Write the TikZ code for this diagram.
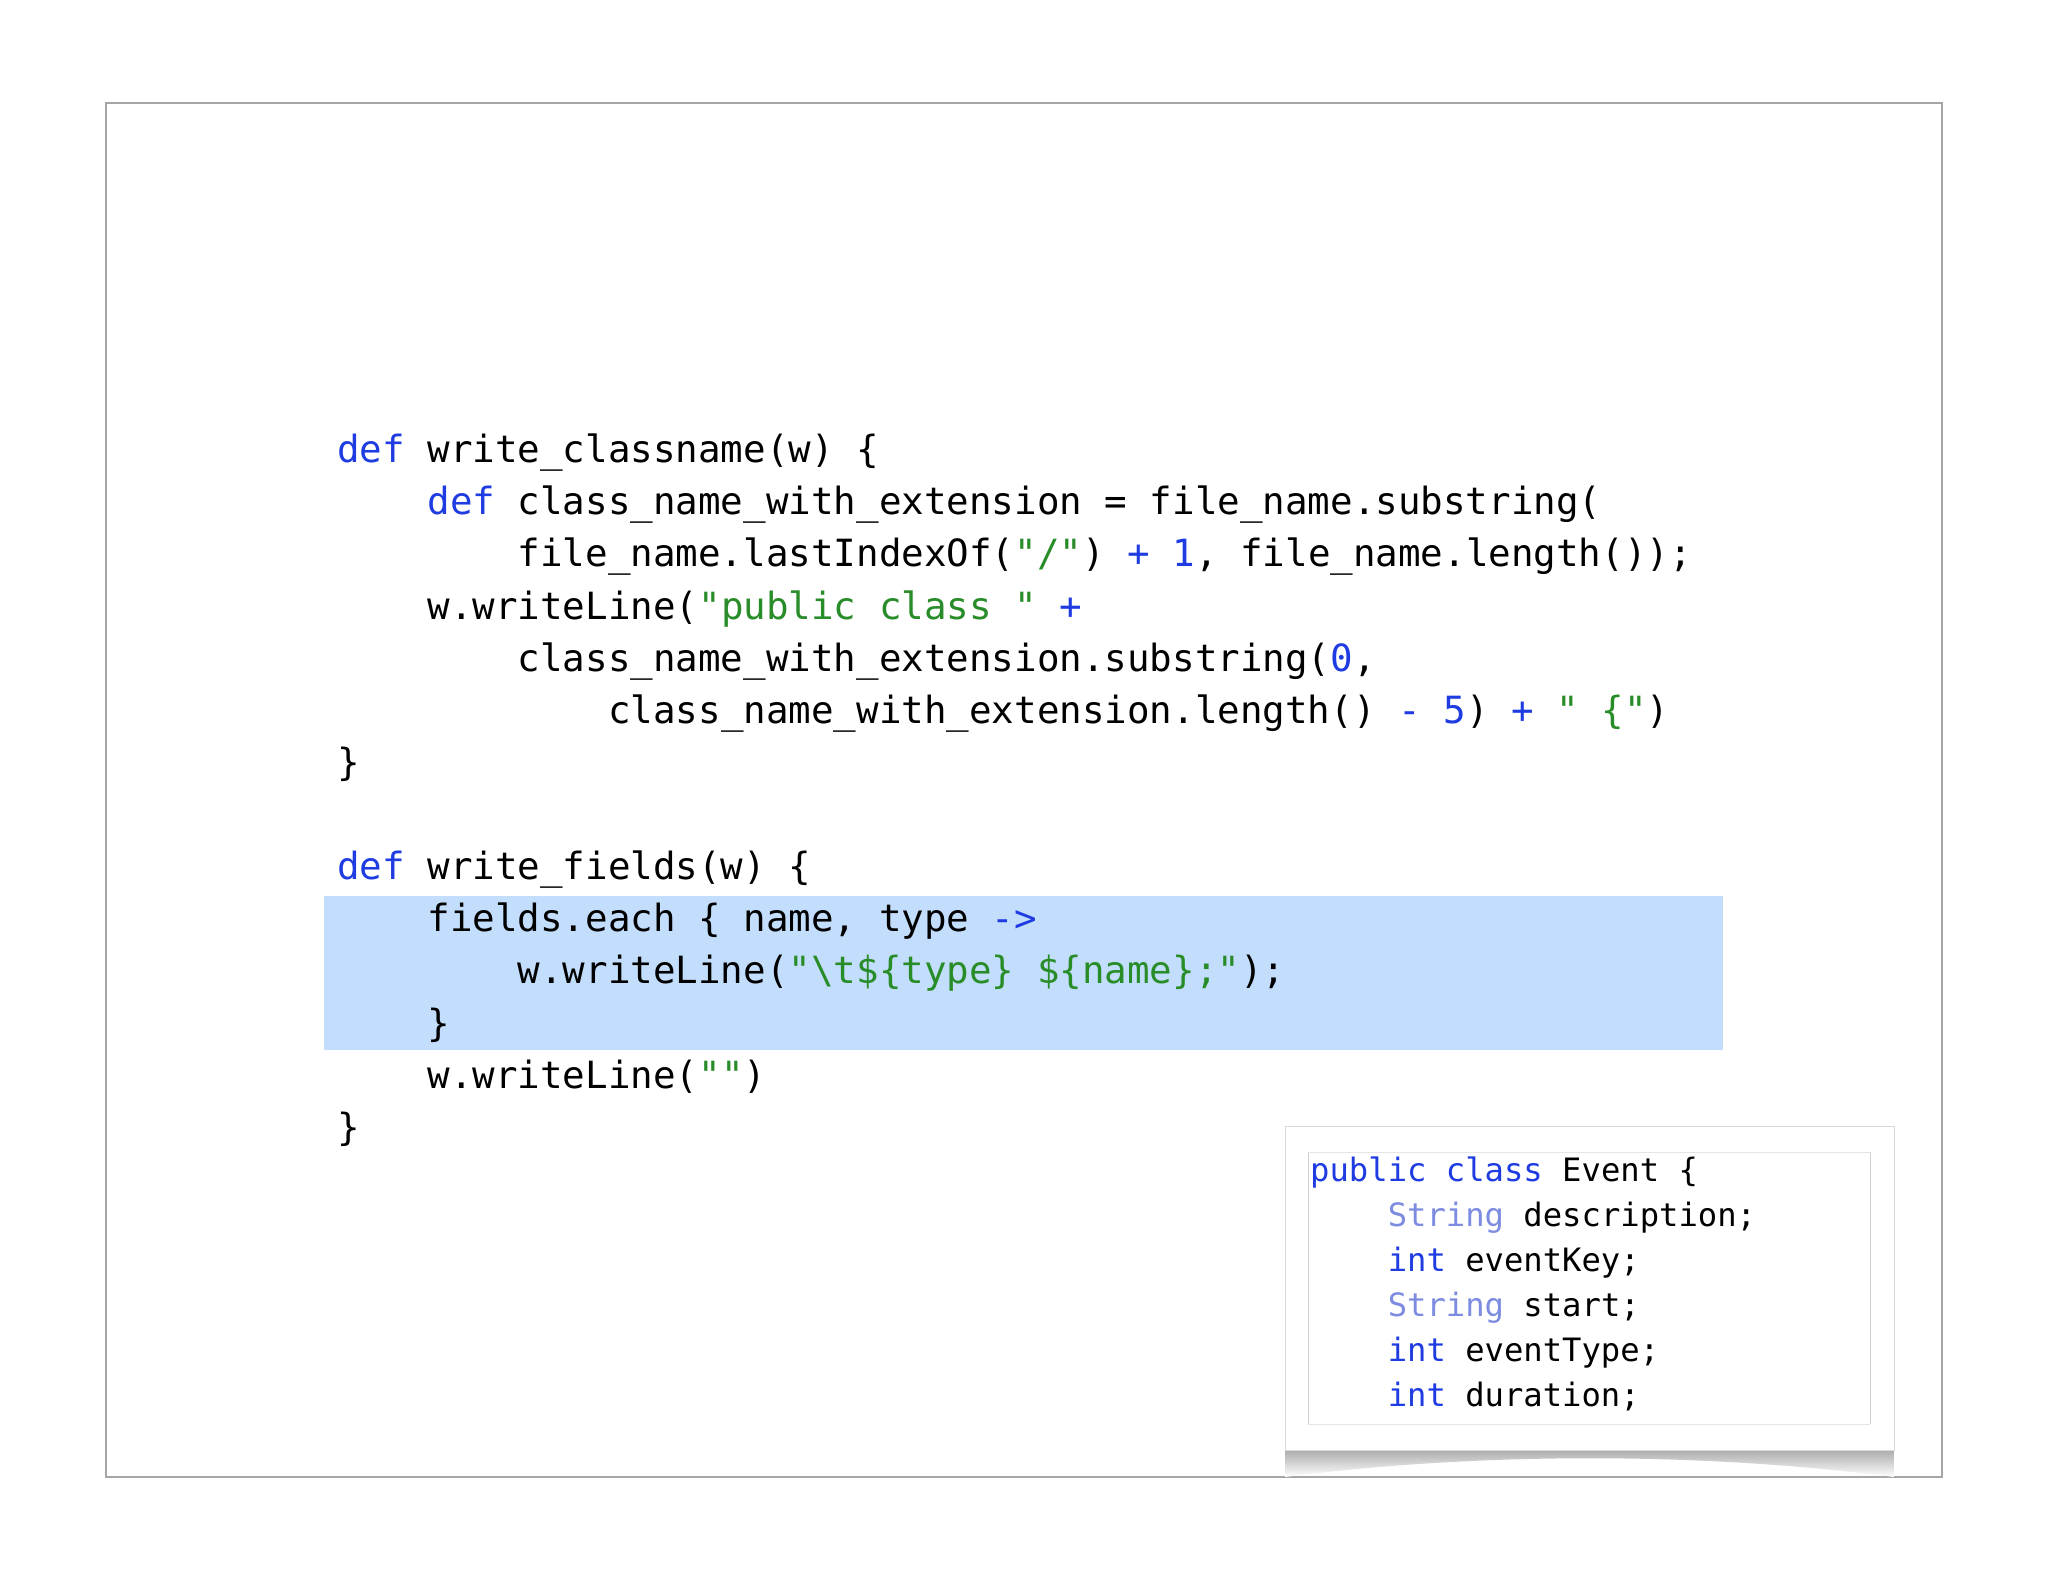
\documentclass[tikz,border=0pt]{standalone}
\usepackage{fontspec}
\setmonofont{DejaVu Sans Mono}
\definecolor{kw}{RGB}{30,60,225}
\definecolor{str}{RGB}{40,140,40}
\definecolor{lkw}{RGB}{125,140,225}
\definecolor{hl}{RGB}{195,222,252}
\begin{document}
\begin{tikzpicture}[x=1pt,y=-1pt,
  code/.style={anchor=base west,inner sep=0pt,font=\fontsize{37.5}{40}\ttfamily},
  small/.style={anchor=base west,inner sep=0pt,font=\fontsize{32.2}{36}\ttfamily}]
\useasboundingbox (0,0) rectangle (2048,1582);
\fill[white] (0,0) rectangle (2048,1582);
\draw[gray!70,line width=1.2pt] (106,103) rectangle (1942,1477);
\fill[hl] (324,896) rectangle (1723,1050);
\def\K#1{\textcolor{kw}{#1}}
\def\S#1{\textcolor{str}{#1}}
\node[code] (l1) at (337,462) {\K{def} write\_classname(w) \{};
\node[code] (l2) at (337,514) {\phantom{xxxx}\K{def} class\_name\_with\_extension = file\_name.substring(};
\node[code] (l3) at (337,566) {\phantom{xxxxxxxx}file\_name.lastIndexOf(\S{"/"}) \K{+} \K{1}, file\_name.length());};
\node[code] (l4) at (337,619) {\phantom{xxxx}w.writeLine(\S{"public class "} \K{+}};
\node[code] (l5) at (337,671) {\phantom{xxxxxxxx}class\_name\_with\_extension.substring(\K{0},};
\node[code] (l6) at (337,723) {\phantom{xxxxxxxxxxxx}class\_name\_with\_extension.length() \K{-} \K{5}) \K{+} \S{" \{"})};
\node[code] (l7) at (337,775) {\}};
\node[code] (m1) at (337,879) {\K{def} write\_fields(w) \{};
\node[code] (m2) at (337,931) {\phantom{xxxx}fields.each \{ name, type \K{->}};
\node[code] (m3) at (337,983) {\phantom{xxxxxxxx}w.writeLine(\S{"\textbackslash t\$\{type\} \$\{name\};"});};
\node[code] (m4) at (337,1036) {\phantom{xxxx}\}};
\node[code] (m5) at (337,1088) {\phantom{xxxx}w.writeLine(\S{""})};
\node[code] (m6) at (337,1140) {\}};
% shadow
\shade[top color=gray!75,bottom color=white] (1285,1446) -- (1894,1446) -- (1894,1477) .. controls (1700,1452) and (1480,1452) .. (1285,1477) -- cycle;
\fill[white] (1285,1126) rectangle (1894,1450);
\draw[gray!30] (1285,1126) rectangle (1894,1450);
\draw[gray!35] (1308,1152) -- (1308,1424);
\draw[gray!35] (1870,1152) -- (1870,1424);
\draw[gray!20] (1308,1152) -- (1870,1152);
\draw[gray!20] (1308,1424) -- (1870,1424);
\node[small] (e1) at (1310,1181) {\K{public class} Event \{};
\node[small] (e2) at (1310,1226) {\phantom{xxxx}\textcolor{lkw}{String} description;};
\node[small] (e3) at (1310,1271) {\phantom{xxxx}\K{int} eventKey;};
\node[small] (e4) at (1310,1316) {\phantom{xxxx}\textcolor{lkw}{String} start;};
\node[small] (e5) at (1310,1361) {\phantom{xxxx}\K{int} eventType;};
\node[small] (e6) at (1310,1406) {\phantom{xxxx}\K{int} duration;};
\end{tikzpicture}
\end{document}
